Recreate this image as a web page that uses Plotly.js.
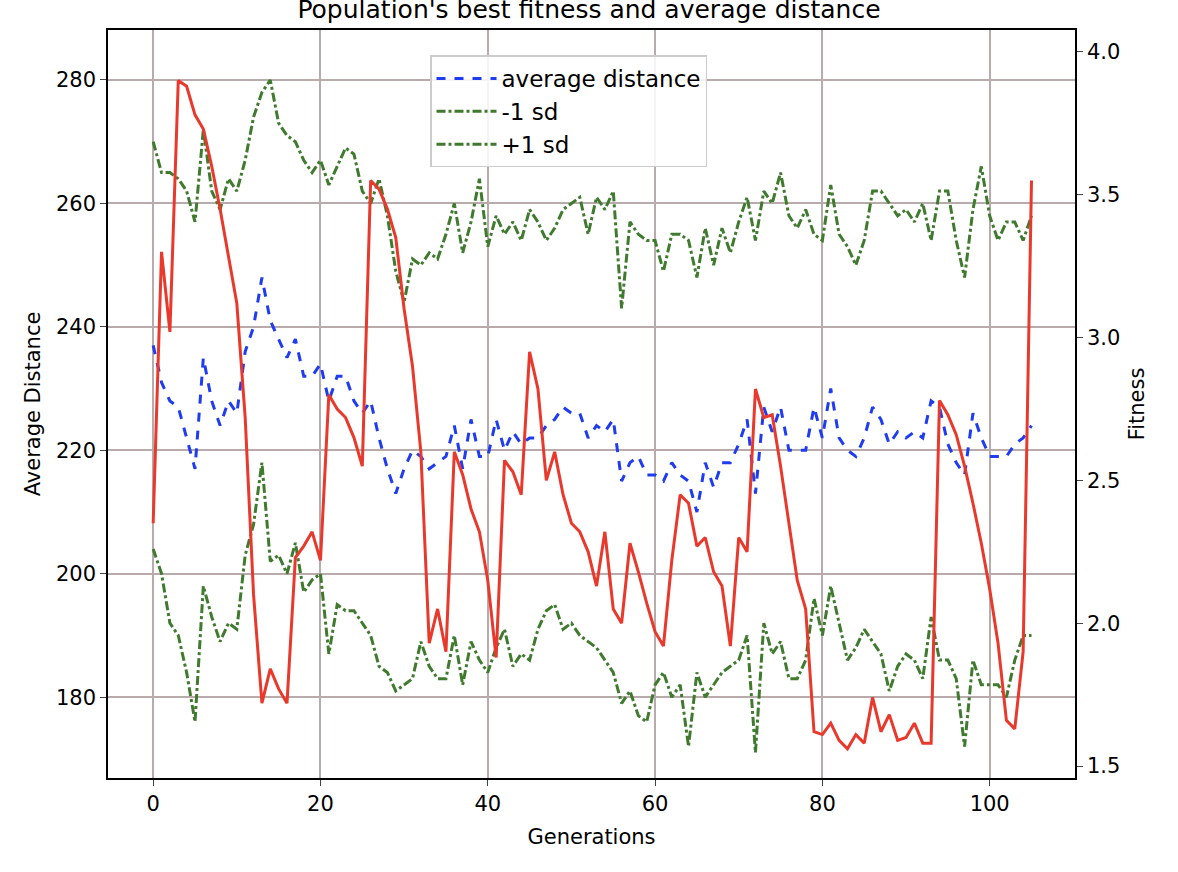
<!DOCTYPE html>
<html>
<head>
<meta charset="utf-8">
<script src="https://cdn.plot.ly/plotly-3.0.1.min.js"></script>
<style>body{margin:0;background:#fff}#chart{width:1178px;height:872px}</style>
</head>
<body>
<div id="chart"></div>
<script>
let avgDist = [237,231,228,227,222,217,235,228,224,228,226,236,240,248,241,238,235,238,232,232,
  234,228,232,232,228,226,228,222,217,213,217,220,219,217,218,219,224,217,225,219,
  219,225,220,223,221,222,222,224,225,227,226,226,222,224,223,225,215,218,219,216,
  216,215,218,216,215,210,218,214,218,218,221,225,213,227,223,227,220,220,220,227,
  222,230,222,220,219,222,227,225,221,223,222,223,222,228,227,221,218,216,226,222,
  219,219,219,221,222,224];
let minusSd = [204,200,192,190,184,176,198,193,189,192,191,203,208,218,202,203,200,205,197,199,
  200,187,195,194,194,192,190,185,184,181,182,183,189,185,183,183,190,182,189,186,
  184,188,191,185,187,186,191,194,195,191,192,190,189,188,186,184,179,181,177,176,
  182,184,180,182,172,184,180,182,184,185,186,190,171,192,187,189,183,183,186,196,
  190,198,192,186,188,191,189,187,181,185,187,186,183,193,186,186,183,172,186,182,
  182,182,180,186,190,190];
let plusSd = [270,265,265,264,262,257,272,262,259,264,262,267,274,278,280,273,271,270,267,265,
  267,263,266,269,268,262,260,264,258,249,244,251,250,252,251,255,260,252,257,264,
  253,258,255,257,254,259,257,254,256,259,260,261,255,261,259,262,243,257,255,254,
  254,249,255,255,254,248,256,250,256,252,257,261,254,262,260,265,258,256,259,255,
  254,263,255,253,250,254,262,262,260,258,259,257,260,254,262,262,254,248,259,266,
  258,254,257,257,254,258];
let fitness = [2.35,3.30,3.02,3.90,3.88,3.78,3.73,3.60,3.45,3.28,3.12,2.72,2.10,1.72,1.84,1.77,1.72,2.23,2.27,2.32,
  2.22,2.80,2.75,2.72,2.65,2.55,3.55,3.52,3.45,3.35,3.10,2.90,2.60,1.93,2.05,1.90,2.60,2.52,2.40,2.32,
  2.15,1.88,2.57,2.53,2.45,2.95,2.82,2.50,2.60,2.45,2.35,2.32,2.25,2.13,2.32,2.05,2.00,2.28,2.18,2.07,
  1.97,1.92,2.22,2.45,2.42,2.27,2.30,2.18,2.13,1.92,2.30,2.25,2.82,2.72,2.73,2.55,2.35,2.15,2.05,1.62,
  1.61,1.65,1.59,1.56,1.61,1.58,1.74,1.62,1.68,1.59,1.60,1.65,1.58,1.58,2.78,2.73,2.66,2.55,2.42,2.28,
  2.12,1.93,1.66,1.63,1.90,3.55];
let gens = avgDist.map((_, i) => i);

let green = '#3f7a2e';
let data = [
  {x: gens, y: avgDist, name: 'average distance', type: 'scatter', mode: 'lines',
   line: {color: '#1f3cf0', width: 3, dash: 'dash'}},
  {x: gens, y: minusSd, name: '-1 sd', type: 'scatter', mode: 'lines',
   line: {color: green, width: 3, dash: 'dashdot'}},
  {x: gens, y: plusSd, name: '+1 sd', type: 'scatter', mode: 'lines',
   line: {color: green, width: 3, dash: 'dashdot'}},
  {x: gens, y: fitness, name: 'fitness', yaxis: 'y2', type: 'scatter', mode: 'lines',
   line: {color: '#e8392c', width: 3}, showlegend: false}
];

let font = {family: 'DejaVu Sans', size: 21, color: '#000'};
let layout = {
  width: 1178, height: 872,
  margin: {l: 108, r: 103, t: 30, b: 94},
  font: font,
  paper_bgcolor: '#fff', plot_bgcolor: '#fff',
  title: {text: "Population's best fitness and average distance", font: {family: 'DejaVu Sans', size: 25},
          x: 0.5, y: 0.999, yanchor: 'top'},
  xaxis: {range: [-5.4, 110.2], dtick: 20, showline: true, mirror: true, linecolor: '#000', linewidth: 1.5,
          ticks: 'outside', ticklen: 6, gridcolor: '#b9abab', gridwidth: 1.5, zeroline: false,
          tickfont: font, title: {text: 'Generations', font: font, standoff: 14}},
  yaxis: {range: [166.9, 288.1], dtick: 20, showline: true, linecolor: '#000', linewidth: 1.5,
          ticks: 'outside', ticklen: 6, gridcolor: '#b9abab', gridwidth: 1.5, zeroline: false,
          tickfont: font, title: {text: 'Average Distance', font: font, standoff: 10}},
  yaxis2: {range: [1.458, 4.077], dtick: 0.5, tickformat: '.1f', overlaying: 'y', side: 'right',
           showline: true, linecolor: '#000', linewidth: 1.5, ticks: 'outside', ticklen: 6,
           showgrid: false, zeroline: false, tickfont: font,
           title: {text: 'Fitness', font: font, standoff: 10}},
  legend: {x: 0.333, y: 0.966, xanchor: 'left', yanchor: 'top', bgcolor: 'rgba(255,255,255,0.85)',
           bordercolor: '#ccc', borderwidth: 1.5, font: {family: 'DejaVu Sans', size: 23},
           itemwidth: 60, tracegroupgap: 4},
  showlegend: true
};

Plotly.newPlot('chart', data, layout, {displayModeBar: false});
</script>
</body>
</html>
